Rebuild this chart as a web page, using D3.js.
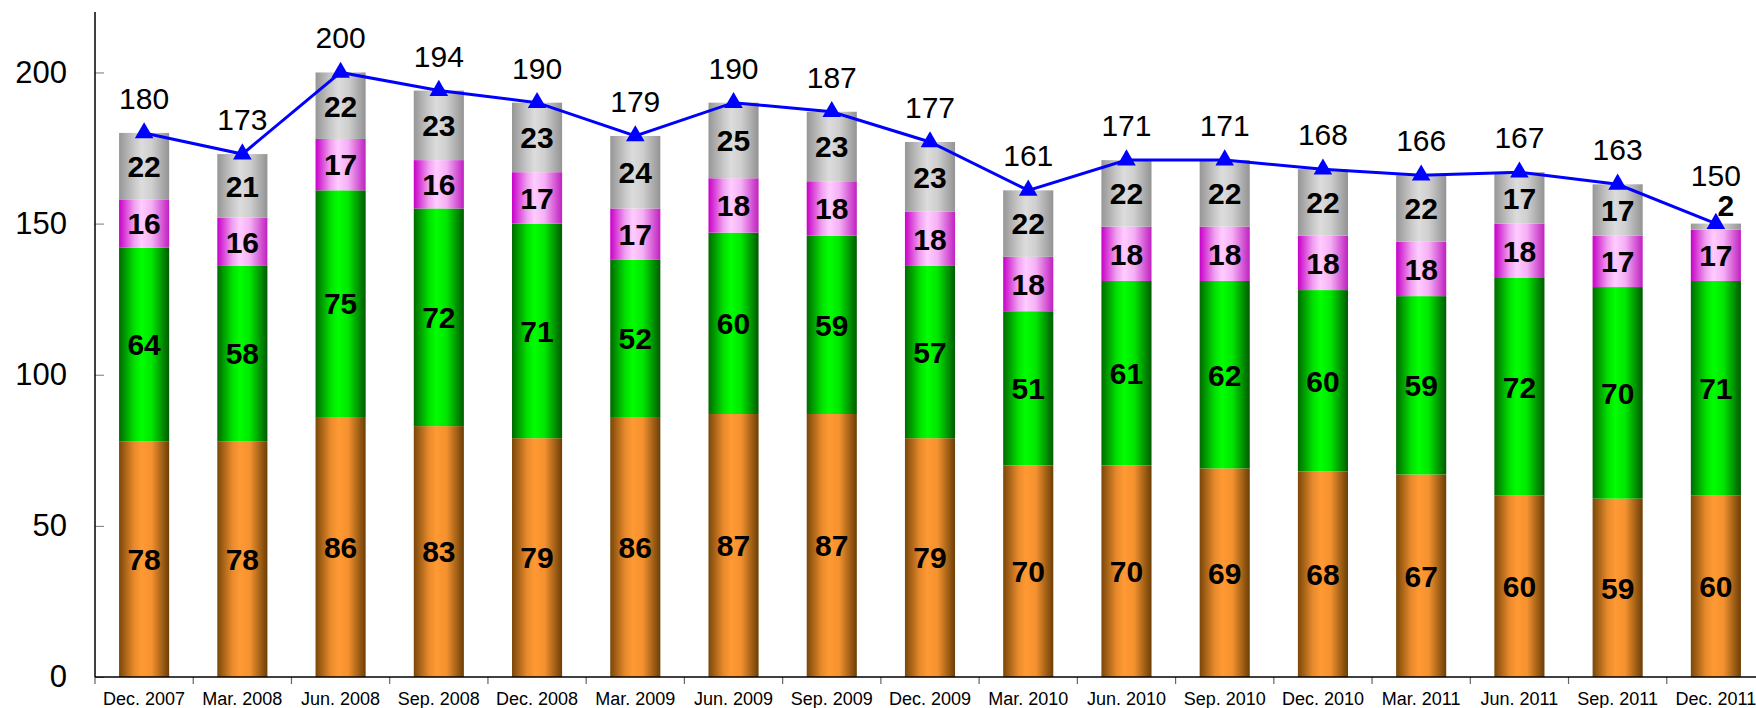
<!DOCTYPE html>
<html>
<head>
<meta charset="utf-8">
<script src="https://cdn.jsdelivr.net/npm/d3@7"></script>
<style>
  html, body { margin: 0; padding: 0; background: #fff; }
  svg { display: block; font-family: "Liberation Sans", Arial, sans-serif; }
</style>
</head>
<body>
<div id="chart"></div>
<script>
// chart data
const periods = ["Dec. 2007", "Mar. 2008", "Jun. 2008", "Sep. 2008", "Dec. 2008", "Mar. 2009",
  "Jun. 2009", "Sep. 2009", "Dec. 2009", "Mar. 2010", "Jun. 2010", "Sep. 2010",
  "Dec. 2010", "Mar. 2011", "Jun. 2011", "Sep. 2011", "Dec. 2011"];
const orangeVals = [78, 78, 86, 83, 79, 86, 87, 87, 79, 70, 70, 69, 68, 67, 60, 59, 60];
const greenVals  = [64, 58, 75, 72, 71, 52, 60, 59, 57, 51, 61, 62, 60, 59, 72, 70, 71];
const pinkVals   = [16, 16, 17, 16, 17, 17, 18, 18, 18, 18, 18, 18, 18, 18, 18, 17, 17];
const greyVals   = [22, 21, 22, 23, 23, 24, 25, 23, 23, 22, 22, 22, 22, 22, 17, 17, 2];
const totals     = [180, 173, 200, 194, 190, 179, 190, 187, 177, 161, 171, 171, 168, 166, 167, 163, 150];
const yTicks = [0, 50, 100, 150, 200];

let width = 1756, height = 708;
let plotLeft = 95, plotRight = 1765, plotTop = 12, plotBottom = 677;

let svg = d3.select("#chart").append("svg")
  .attr("width", width).attr("height", height);

let x = d3.scaleBand().domain(periods).range([plotLeft, plotRight])
  .paddingInner(0.49).paddingOuter(0.245);
let y = d3.scaleLinear().domain([0, 220]).range([plotBottom, plotTop]);

// horizontal shading, dark at the edges
let series = [
  { key: "orange", vals: orangeVals, stops: ["#7a4708", "#e88a2c", "#ff9933", "#f5922f", "#6b3e06"] },
  { key: "green", vals: greenVals, stops: ["#006a00", "#00e000", "#00ff00", "#00e600", "#005a00"] },
  { key: "pink", vals: pinkVals, stops: ["#c800c8", "#f0a0f0", "#ffccff", "#f5b0f5", "#c020c0"] },
  { key: "grey", vals: greyVals, stops: ["#969696", "#c8c8c8", "#dcdcdc", "#cfcfcf", "#939393"] }
];
let offsets = [0, 0.3, 0.45, 0.65, 1];

let defs = svg.append("defs");
series.forEach(s => {
  let g = defs.append("linearGradient").attr("id", "grad_" + s.key)
    .attr("x1", "0%").attr("x2", "100%").attr("y1", "0%").attr("y2", "0%");
  s.stops.forEach((c, i) => g.append("stop").attr("offset", offsets[i]).attr("stop-color", c));
});

// stacked data
let stackData = periods.map((p, i) => {
  let row = { period: p };
  series.forEach(s => row[s.key] = s.vals[i]);
  return row;
});
let stacked = d3.stack().keys(series.map(s => s.key))(stackData);

let bw = x.bandwidth();
stacked.forEach((layer, li) => {
  let key = series[li].key;
  let g = svg.append("g").classed("layer_" + key, true);
  g.selectAll("rect").data(layer).enter().append("rect")
    .attr("x", d => x(d.data.period))
    .attr("y", d => y(d[1]))
    .attr("width", bw)
    .attr("height", d => y(d[0]) - y(d[1]))
    .attr("fill", "url(#grad_" + key + ")");
});

// segment labels (tiny segments get their label above the bar)
stacked.forEach((layer, li) => {
  svg.append("g").selectAll("text").data(layer).enter().append("text")
    .attr("x", d => {
      let cx = x(d.data.period) + bw / 2;
      return (d[1] - d[0]) < 6 ? cx + 10 : cx;
    })
    .attr("y", d => (d[1] - d[0]) < 6 ? y(d[1]) - 8 : y((d[0] + d[1]) / 2))
    .attr("dy", d => (d[1] - d[0]) < 6 ? 0 : "0.36em")
    .attr("text-anchor", "middle")
    .style("font-size", "30px")
    .style("font-weight", "bold")
    .style("fill", "#000")
    .text(d => d[1] - d[0]);
});

// axes
let yAxis = d3.axisLeft(y).tickValues(yTicks).tickSizeInner(-9).tickSizeOuter(0).tickPadding(28);
let yg = svg.append("g").attr("transform", "translate(" + plotLeft + ",0)").call(yAxis);
yg.select(".domain").remove();
yg.selectAll(".tick line").attr("stroke", "#777");
yg.selectAll(".tick text").style("font-size", "31px").style("fill", "#000")
  .style("font-family", "'Liberation Sans', Arial, sans-serif");
svg.append("line").attr("x1", plotLeft).attr("x2", plotLeft).attr("y1", plotTop).attr("y2", plotBottom)
  .attr("stroke", "#000").attr("stroke-width", 1.5);

let step = x.step();
svg.append("g").selectAll("line").data(d3.range(periods.length + 1)).enter().append("line")
  .attr("x1", i => plotLeft + i * step).attr("x2", i => plotLeft + i * step)
  .attr("y1", plotBottom).attr("y2", plotBottom + 7)
  .attr("stroke", "#666").attr("stroke-width", 1.2);
svg.append("line").attr("x1", plotLeft).attr("x2", plotRight).attr("y1", plotBottom).attr("y2", plotBottom)
  .attr("stroke", "#000").attr("stroke-width", 1.5);

svg.append("g").selectAll("text").data(periods).enter().append("text")
  .attr("x", d => x(d) + bw / 2)
  .attr("y", 705)
  .attr("text-anchor", "middle")
  .style("font-size", "18px")
  .style("fill", "#000")
  .text(d => d);

// total line
let cx = p => x(p) + bw / 2;
let line = d3.line().x((d, i) => cx(periods[i])).y(d => y(d));
svg.append("path").datum(totals)
  .attr("d", line)
  .attr("fill", "none")
  .attr("stroke", "#0000ff")
  .attr("stroke-width", 3);

let tri = d3.symbol().type(d3.symbolTriangle).size(150);
svg.append("g").selectAll("path").data(totals).enter().append("path")
  .attr("d", tri)
  .attr("transform", (d, i) => "translate(" + cx(periods[i]) + "," + y(d) + ")")
  .attr("fill", "#0000ff");

svg.append("g").selectAll("text").data(totals).enter().append("text")
  .attr("x", (d, i) => cx(periods[i]))
  .attr("y", (d, i) => y(d) - (greyVals[i] < 6 ? 38 : 24))
  .attr("text-anchor", "middle")
  .style("font-size", "30px")
  .style("fill", "#000")
  .text(d => d);
</script>
</body>
</html>
